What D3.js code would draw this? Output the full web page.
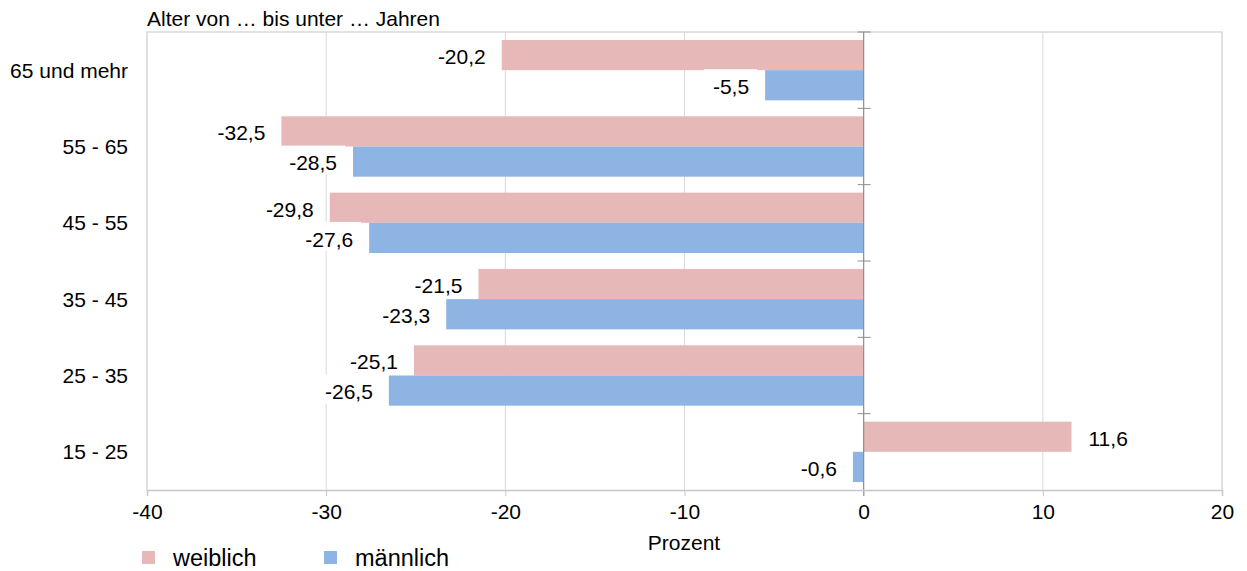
<!DOCTYPE html>
<html>
<head>
<meta charset="utf-8">
<script src="https://cdn.jsdelivr.net/npm/d3@7/dist/d3.min.js"></script>
<style>
  html, body { margin: 0; padding: 0; background: #fff; }
  svg { display: block; font-family: "Liberation Sans", Arial, Helvetica, sans-serif; }
</style>
</head>
<body>
<svg id="chart" width="1247" height="571"></svg>
<script>
// Altersgruppen (von oben nach unten)
const categories = ["65 und mehr", "55 - 65", "45 - 55", "35 - 45", "25 - 35", "15 - 25"];
const seriesNames = ["weiblich", "männlich"];
const weiblich = [-20.2, -32.5, -29.8, -21.5, -25.1, 11.6];
const maennlich = [-5.5, -28.5, -27.6, -23.3, -26.5, -0.6];
const xTicks = [-40, -30, -20, -10, 0, 10, 20];
const colors = { "weiblich": "#E6B9B8", "männlich": "#8EB4E3" };

const de = d3.formatLocale({ decimal: ",", thousands: ".", grouping: [3], currency: ["", " €"], minus: "-" });
const fmtVal = de.format(".1f");
const fmtTick = de.format("d");

const svg = d3.select("#chart");
const fontSize = 21;
const legendFontSize = 23.5;
const plotL = 147, plotR = 1222, plotT = 32, plotB = 490;

const x = d3.scaleLinear().domain([-40, 20]).range([plotL, plotR]);
const y = d3.scaleBand().domain(categories).range([plotT, plotB]).paddingInner(0.209).paddingOuter(0.1045);
const ySub = d3.scaleBand().domain(seriesNames).range([0, y.bandwidth()]);

const rows = categories.map((c, i) => ({ cat: c, values: [
  { key: "weiblich", value: weiblich[i] },
  { key: "männlich", value: maennlich[i] }
]}));

// Gitternetz
svg.append("g").selectAll("line").data(xTicks.filter(t => t !== 0 && t !== -40 && t !== 20)).join("line")
  .attr("x1", d => x(d)).attr("x2", d => x(d))
  .attr("y1", plotT).attr("y2", plotB)
  .attr("stroke", "#d9d9d9").attr("stroke-width", 1);

// Rahmen der Zeichenfläche
svg.append("path")
  .attr("d", `M${plotL},${plotB}V${plotT}H${plotR}V${plotB}`)
  .attr("fill", "none").attr("stroke", "#d9d9d9").attr("stroke-width", 1.6);

// Balken
const groups = svg.append("g").selectAll("g").data(rows).join("g")
  .attr("transform", d => `translate(0,${y(d.cat)})`);

groups.selectAll("rect").data(d => d.values).join("rect")
  .attr("x", d => x(Math.min(0, d.value)))
  .attr("width", d => Math.abs(x(d.value) - x(0)))
  .attr("y", d => ySub(d.key))
  .attr("height", ySub.bandwidth())
  .attr("fill", d => colors[d.key]);

// Datenbeschriftungen mit weißem Hintergrund
const labels = groups.selectAll("g.lbl").data(d => d.values).join("g").attr("class", "lbl");
labels.each(function(d) {
  const g = d3.select(this);
  const cy = ySub(d.key) + ySub.bandwidth() / 2 + 1.5;
  const neg = d.value < 0;
  const tx = neg ? x(d.value) - 16 : x(d.value) + 17;
  const box = g.append("rect").attr("fill", "#fff");
  const t = g.append("text")
    .attr("x", tx).attr("y", cy).attr("dy", "0.35em")
    .attr("text-anchor", neg ? "end" : "start")
    .attr("font-size", fontSize).attr("fill", "#000")
    .text(fmtVal(d.value));
  const bb = t.node().getBBox();
  box.attr("x", bb.x - 9).attr("width", bb.width + 17)
     .attr("y", cy - 17.5).attr("height", 29);
});

// Nullachse mit Kategorie-Teilstrichen
const zx = x(0);
svg.append("line").attr("x1", zx).attr("x2", zx).attr("y1", plotT).attr("y2", plotB + 6)
  .attr("stroke", "#8c8c8c").attr("stroke-width", 1.2);
const bounds = categories.map(c => y(c) - y.step() * y.paddingInner() / 2);
svg.append("g").selectAll("line").data(bounds).join("line")
  .attr("x1", zx - 6).attr("x2", zx + 7).attr("y1", d => d).attr("y2", d => d)
  .attr("stroke", "#8c8c8c").attr("stroke-width", 1);

// x-Achse
const xAxis = svg.append("g").attr("transform", `translate(0,${plotB})`)
  .call(d3.axisBottom(x).tickValues(xTicks).tickFormat(fmtTick).tickSize(6).tickPadding(8));
xAxis.select(".domain").attr("stroke", "#c8c8c8").attr("stroke-width", 1.5);
xAxis.selectAll(".tick line").attr("stroke", "#c8c8c8");
xAxis.selectAll(".tick text").attr("font-size", fontSize).attr("fill", "#000")
  .attr("font-family", "'Liberation Sans', Arial, sans-serif");

// Kategorienbeschriftung
svg.append("g").selectAll("text").data(categories).join("text")
  .attr("x", plotL - 19).attr("y", d => y(d) + y.bandwidth() / 2).attr("dy", "0.35em")
  .attr("text-anchor", "end").attr("font-size", fontSize).attr("fill", "#000")
  .text(d => d);

// Achsentitel
svg.append("text").attr("x", plotL).attr("y", 26).attr("font-size", fontSize).attr("fill", "#000")
  .text("Alter von … bis unter … Jahren");
svg.append("text").attr("x", 684).attr("y", 550).attr("text-anchor", "middle")
  .attr("font-size", fontSize).attr("fill", "#000").text("Prozent");

// Legende
const legendX = [142, 324];
const lg = svg.append("g").selectAll("g").data(seriesNames).join("g")
  .attr("transform", (d, i) => `translate(${legendX[i]},551)`);
lg.append("rect").attr("width", 13).attr("height", 13).attr("fill", d => colors[d]);
lg.append("text").attr("x", 31).attr("y", 15)
  .attr("font-size", legendFontSize).attr("fill", "#000").text(d => d);
</script>
</body>
</html>
